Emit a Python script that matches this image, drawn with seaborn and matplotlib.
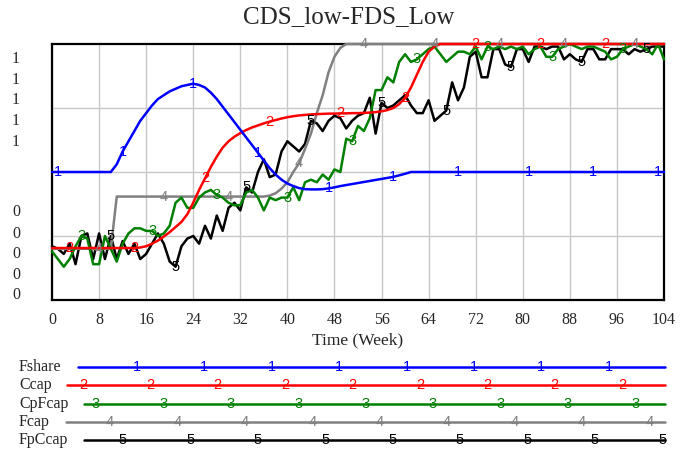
import pandas as pd
import seaborn as sns
import matplotlib.pyplot as plt

# Values (fraction of the plot height, 0 = bottom, 1 = top)
weeks = list(range(105))

fshare = ([0.50] * 11
          + [0.53, 0.58, 0.62, 0.66, 0.70, 0.73, 0.76, 0.785, 0.80, 0.815,
             0.825, 0.835, 0.84, 0.845, 0.84, 0.83, 0.81, 0.785, 0.755, 0.725,
             0.695, 0.665, 0.635, 0.605, 0.575, 0.545, 0.515, 0.49, 0.47, 0.455,
             0.445, 0.437, 0.433, 0.432, 0.432, 0.433, 0.436, 0.44, 0.445, 0.449,
             0.453, 0.457, 0.461, 0.465, 0.469, 0.473, 0.477, 0.481, 0.487, 0.493,
             0.50]
          + [0.50] * 43)

ccap = ([0.203] * 15
        + [0.205, 0.21, 0.22, 0.232, 0.248, 0.265, 0.285, 0.305, 0.335, 0.38,
           0.43, 0.475, 0.52, 0.56, 0.595, 0.62, 0.638, 0.652, 0.664, 0.674,
           0.682, 0.69, 0.697, 0.703, 0.709, 0.714, 0.718, 0.721, 0.723, 0.725,
           0.726, 0.727, 0.728, 0.728, 0.729, 0.729, 0.73, 0.73, 0.731, 0.732,
           0.734, 0.737, 0.742, 0.75, 0.765, 0.79, 0.83, 0.88, 0.93, 0.97,
           0.99, 1.0]
        + [1.0] * 38)

cpfcap = [0.19, 0.16, 0.13, 0.16, 0.21, 0.25, 0.24, 0.14, 0.14, 0.25,
          0.20, 0.15, 0.22, 0.26, 0.28, 0.28, 0.27, 0.27, 0.25, 0.26,
          0.29, 0.38, 0.40, 0.36, 0.36, 0.40, 0.42, 0.43, 0.41, 0.40,
          0.38, 0.37, 0.37, 0.42, 0.43, 0.40, 0.35, 0.40, 0.39, 0.40,
          0.40, 0.44, 0.39, 0.46, 0.47, 0.46, 0.49, 0.47, 0.51, 0.50,
          0.63, 0.62, 0.68, 0.66, 0.71, 0.82, 0.82, 0.87, 0.85, 0.93,
          0.96, 0.93, 0.94, 0.96, 0.98, 0.99, 0.96, 0.93, 0.95, 0.97,
          0.97, 0.96, 0.99, 0.94, 0.99, 0.98, 0.99, 0.98, 0.99, 0.98,
          0.99, 0.96, 0.98, 0.99, 0.95, 0.95, 0.98, 0.99, 1.00, 0.99,
          0.98, 0.99, 0.99, 0.98, 0.97, 0.94, 0.95, 0.98, 0.99, 1.00,
          0.99, 0.98, 0.96, 1.00, 0.94]

fcap = ([0.20] * 11
        + [0.404] * 26
        + [0.408, 0.417, 0.435, 0.46, 0.50, 0.535, 0.59, 0.65, 0.73, 0.80,
           0.89, 0.95, 0.985]
        + [1.0] * 55)

fpccap = [0.21, 0.20, 0.18, 0.22, 0.14, 0.25, 0.26, 0.16, 0.26, 0.16,
          0.25, 0.16, 0.23, 0.18, 0.22, 0.16, 0.18, 0.22, 0.26, 0.22,
          0.15, 0.13, 0.21, 0.24, 0.25, 0.22, 0.29, 0.24, 0.33, 0.27,
          0.36, 0.38, 0.35, 0.44, 0.42, 0.50, 0.55, 0.48, 0.49, 0.58,
          0.62, 0.60, 0.58, 0.61, 0.70, 0.69, 0.66, 0.70, 0.72, 0.71,
          0.67, 0.70, 0.72, 0.73, 0.79, 0.65, 0.77, 0.75, 0.76, 0.78,
          0.80, 0.76, 0.73, 0.73, 0.78, 0.70, 0.72, 0.74, 0.85, 0.78,
          0.83, 0.95, 0.97, 0.87, 0.87, 0.98, 0.98, 0.92, 0.91, 0.98,
          0.98, 0.93, 0.99, 0.99, 0.98, 0.99, 0.99, 0.94, 0.96, 0.94,
          0.93, 0.98, 0.98, 0.94, 0.94, 0.98, 0.98, 0.98, 0.96, 0.98,
          0.97, 0.98, 0.99, 0.99, 0.99]

series_names = ["Fshare", "Ccap", "CpFcap", "Fcap", "FpCcap"]
series_ids = ["1", "2", "3", "4", "5"]
colors = {"Fshare": "#0000ff", "Ccap": "#ff0000", "CpFcap": "#008000",
          "Fcap": "#808080", "FpCcap": "#000000"}
# weeks where the series number is written on the line
label_weeks = {
    "Fshare": [1, 12, 24, 35, 47, 58, 69, 81, 92, 103],
    "Ccap": [3, 14, 26, 37, 49, 60, 72, 83, 94],
    "CpFcap": [5, 17, 28, 40, 51, 62, 74, 85, 97],
    "Fcap": [8, 19, 30, 42, 53, 65, 76, 87, 99],
    "FpCcap": [10, 21, 33, 44, 56, 67, 78, 90, 101],
}
x_ticks = list(range(0, 105, 8))
y_label_text = ["1", "1", "1", "1", "1", "0", "0", "0", "0", "0"]

wide = pd.DataFrame({"week": weeks, "Fshare": fshare, "Ccap": ccap,
                     "CpFcap": cpfcap, "Fcap": fcap, "FpCcap": fpccap})
data = wide.melt(id_vars="week", var_name="series", value_name="value")

sns.set_theme(style="white")
plt.rcParams["font.family"] = ["Liberation Serif", "DejaVu Serif"]

W, H = 692, 451
fig = plt.figure(figsize=(W / 100, H / 100), dpi=100)
ax = fig.add_axes([52 / W, (H - 300) / H, 612 / W, 256 / H])

sns.lineplot(data=data, x="week", y="value", hue="series",
             hue_order=series_names[::-1], palette=colors, linewidth=1.8,
             legend=False, ax=ax, zorder=3, clip_on=False)

for name, sid in zip(series_names, series_ids):
    vals = wide[name]
    for w in label_weeks[name]:
        ax.text(w, vals[w], sid, color=colors[name], fontsize=10.5,
                family="Liberation Sans", ha="center", va="center", zorder=4)

ax.set_xlim(0, 104)
ax.set_ylim(0, 1)
ax.set_xticks(x_ticks)
ax.set_xticklabels([str(t) for t in x_ticks], fontsize=11.5)
ax.set_yticks([0.25, 0.5, 0.75])
ax.set_yticklabels([])
ax.set_yticks([0.949, 0.867, 0.789, 0.707, 0.625,
               0.352, 0.266, 0.188, 0.105, 0.027], minor=True)
ax.set_yticklabels(y_label_text, minor=True, fontsize=11.5)
ax.tick_params(axis="both", which="both", length=0)
ax.tick_params(axis="x", pad=9)
ax.tick_params(axis="y", which="minor", pad=23)
ax.grid(True, which="major", color="#c8c8c8", linewidth=1)
for sp in ax.spines.values():
    sp.set_color("black")
    sp.set_linewidth(1.6)
ax.set_xlabel("Time (Week)", fontsize=12.5, labelpad=3)
ax.set_ylabel("")

fig.text(349 / W, 1 - 17 / H, "CDS_low-FDS_Low", fontsize=18,
         ha="center", va="center")

# key below the plot, drawn in pixel coordinates
leg = fig.add_axes([0, 0, 1, 1], zorder=-1)
leg.set_xlim(0, W)
leg.set_ylim(H, 0)
leg.axis("off")
row_y = [367, 385, 404, 422, 440]
line_start = [78, 67, 84, 66, 84]
first_num = [137, 83, 96, 110, 123]
num_count = [8, 9, 9, 9, 9]
for i, (name, sid) in enumerate(zip(series_names, series_ids)):
    y = row_y[i]
    leg.text(19, y, name, fontsize=11.5, ha="left", va="center")
    leg.plot([line_start[i], 665], [y, y], color=colors[name], linewidth=1.8)
    for k in range(num_count[i]):
        leg.text(first_num[i] + k * 67.4, y, sid, color=colors[name],
                 fontsize=10.5, family="Liberation Sans", ha="center", va="center")

fig.savefig("out.png", dpi=100)
